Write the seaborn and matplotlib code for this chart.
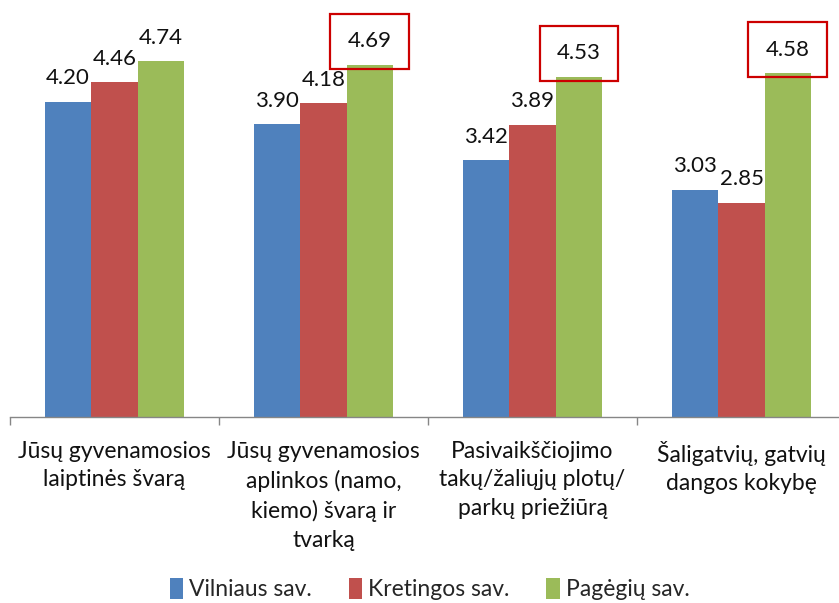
import matplotlib
matplotlib.use("Agg")
import matplotlib.pyplot as plt
import seaborn as sns
import pandas as pd

categories = [
    "Jūsų gyvenamosios\nlaiptinės švarą",
    "Jūsų gyvenamosios\naplinkos (namo,\nkiemo) švarą ir\ntvarką",
    "Pasivaikščiojimo\ntakų/žaliųjų plotų/\nparkų priežiūrą",
    "Šaligatvių, gatvių\ndangos kokybę",
]
series = ["Vilniaus sav.", "Kretingos sav.", "Pagėgių sav."]
vilnius = [4.20, 3.90, 3.42, 3.03]
kretinga = [4.46, 4.18, 3.89, 2.85]
pagegiai = [4.74, 4.69, 4.53, 4.58]
highlighted = [False, True, True, True]
colors = ["#4F81BD", "#C0504D", "#9BBB59"]

sns.set_theme(style="white")
plt.rcParams["font.family"] = ["Lato", "DejaVu Sans"]

rows = []
for s, vals in zip(series, [vilnius, kretinga, pagegiai]):
    for c, v in zip(categories, vals):
        rows.append({"cat": c, "val": v, "series": s})
df = pd.DataFrame(rows)

W, H = 839, 603
fig = plt.figure(figsize=(W / 100, H / 100), dpi=100)
ax = fig.add_axes([10 / W, (H - 417) / H, 836 / W, 417 / H])

sns.barplot(data=df, x="cat", y="val", hue="series", palette=colors,
            saturation=1, width=0.665, ax=ax, legend=True, linewidth=0)

ax.set_ylim(0, 5.56)
ax.set_xlim(-0.5, 3.5)
ax.set_xlabel("")
ax.set_ylabel("")
ax.set_yticks([])
for sp in ["top", "right", "left"]:
    ax.spines[sp].set_visible(False)
ax.spines["bottom"].set_color("#868686")
ax.spines["bottom"].set_linewidth(1)

ax.set_xticks(range(len(categories)))
ax.set_xticklabels(categories, fontsize=16.5, color="#111111", linespacing=1.45, va="top")
ax.set_xticks([i - 0.5 for i in range(len(categories) + 1)], minor=True)
ax.tick_params(axis="x", which="major", length=0, pad=17)
ax.tick_params(axis="x", which="minor", length=6, color="#868686", width=1, bottom=True)

for i, cont in enumerate(ax.containers):
    texts = ax.bar_label(cont, fmt="%.2f", fontsize=16, color="#111111", padding=10)
    if i == 2:
        for t, h in zip(texts, highlighted):
            if h:
                t.set_bbox(dict(boxstyle="square,pad=0.78", fc="none", ec="#CC0000", lw=1.6))
    for t in texts:
        t.set_clip_on(False)

handles, labels = ax.get_legend_handles_labels()
ax.get_legend().remove()
fig.legend(handles, labels, loc="lower center", bbox_to_anchor=(0.512, -0.03), ncol=3,
           frameon=False, fontsize=16.5, handlelength=0.6, handleheight=1.0,
           handletextpad=0.25, columnspacing=1.6)

fig.savefig("out.png", dpi=100)
